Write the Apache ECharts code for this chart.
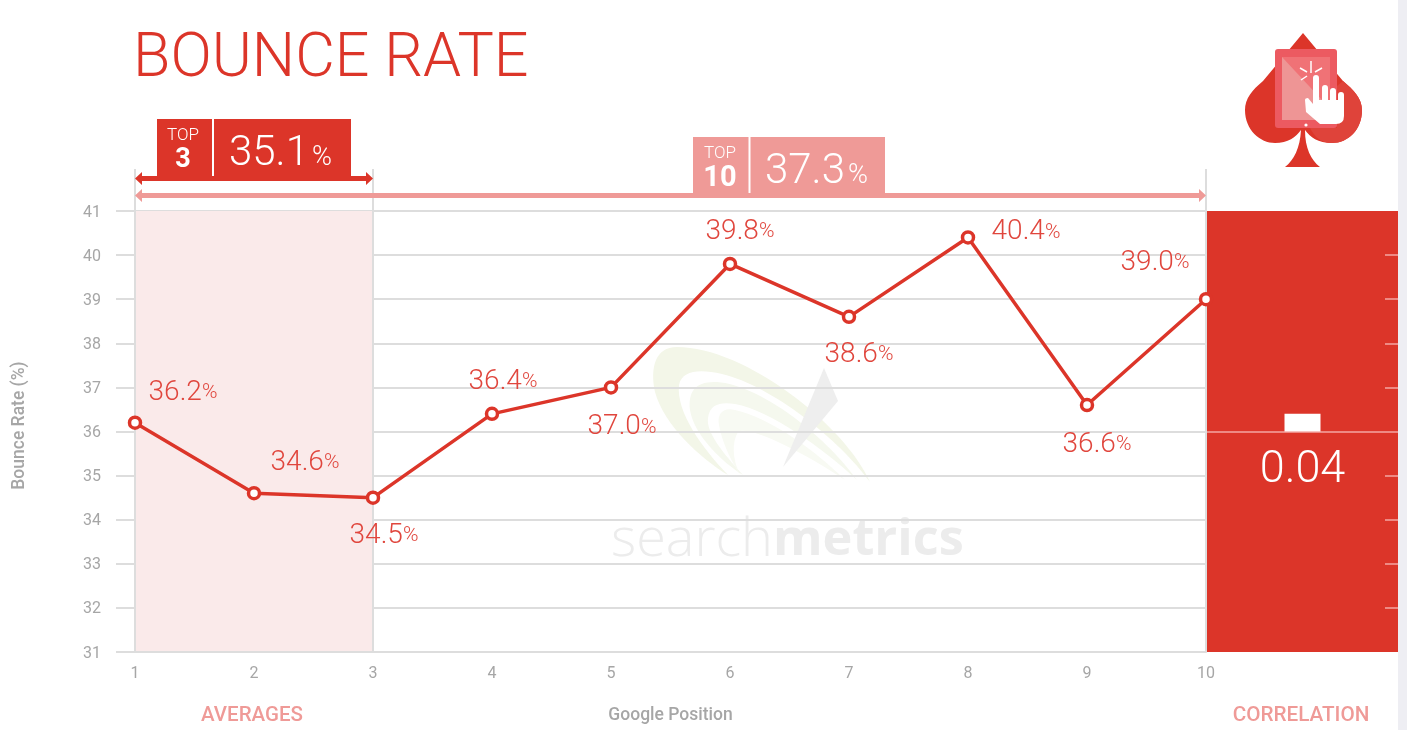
<!DOCTYPE html>
<html><head><meta charset="utf-8">
<style>html,body{margin:0;padding:0;background:#fff}#c{width:1407px;height:730px}</style>
<script src="https://cdn.jsdelivr.net/npm/echarts@6/dist/echarts.min.js"></script>
</head><body><div id="c"></div>
<script>
const positions = [1,2,3,4,5,6,7,8,9,10];
const bounceRate = [36.2,34.6,34.5,36.4,37.0,39.8,38.6,40.4,36.6,39.0];
const labelOffsets = [[48,-30],[51,-30],[11,38],[11,-32],[11,40],[10,-32],[10,38],[58,-5],[10,40],[-51,-36]];
const correlationLabels = ['Correlation'];
const correlationValues = [0.04];
const top3Average = '35.1';
const top10Average = '37.3';

const RED='#dc3529', PINK='#ef9a97', GREY='#dddddd', TXT='#a6a6a6', FONT='Roboto';
const chart = echarts.init(document.getElementById('c'),null,{renderer:'canvas'});

function txt(x,y,text,size,weight,color,align,extra){
  return Object.assign({type:'text',x,y,z:10,silent:true,style:{text,fontFamily:FONT,fontSize:size,fontWeight:weight,fill:color,align:align||'center',verticalAlign:'middle'}},extra||{});
}
function rect(x,y,w,h,fill,z,r){return {type:'rect',z:z===undefined?10:z,silent:true,shape:{x,y,width:w,height:h,r:r||0},style:{fill}};}
let shapeCount=0;
function pth(d,fill,z){
  const name='svgShape'+(++shapeCount);
  echarts.graphic.registerShape(name,echarts.graphic.extendPath(d,{}));
  return {type:name,z:z===undefined?10:z,silent:true,style:{fill}};
}
function poly(points,fill,z){return {type:'polygon',z:z===undefined?10:z,silent:true,shape:{points},style:{fill}};}
function seg(x1,y1,x2,y2,color,w){return {type:'line',z:12,silent:true,shape:{x1,y1,x2,y2},style:{stroke:color,lineWidth:w||1.5}};}
function arrow(x1,x2,y,color){
  const t=2.5,hw=7,hh=6.5;
  return poly([[x1,y],[x1+hw,y-hh],[x1+hw,y-t],[x2-hw,y-t],[x2-hw,y-hh],[x2,y],[x2-hw,y+hh],[x2-hw,y+t],[x1+hw,y+t],[x1+hw,y+hh]],color,9);
}

const staticGraphics = [
  rect(1398,0,9,730,'#eeeef3',20),
  // watermark
  pth('M870 482 C845 425 745 347 677 347 C655 347 650 368 655 392 C664 425 700 458 728 475 C702 448 676 412 679 385 C682 370 700 369 722 374 C772 386 840 440 870 482 Z','#f3f6e8',-1),
  pth('M857 480 C825 435 760 385 717 382 C695 381 688 392 690 410 C694 435 722 462 743 475 C722 452 706 432 708 418 C710 403 722 402 735 404 C770 410 825 450 857 480 Z','#f5f8ee',-1),
  pth('M845 480 C815 450 770 418 735 410 C722 407 717 415 719 425 C722 443 732 462 740 475 C732 458 732 442 738 432 C748 425 800 450 845 480 Z','#f8faf3',-1),
  poly([[824,368],[838,401],[783,467]],'#eeeeee',-1),
  {type:'text',x:611,y:541,z:-1,silent:true,style:{rich:{a:{fontFamily:'Open Sans',fontSize:54,fontWeight:300,fill:'#ececec'},b:{fontFamily:'Open Sans',fontSize:50.5,fontWeight:700,fill:'#ececec'}},text:'{a|search}{b|metrics}',verticalAlign:'middle'}},
  // title
  txt(133,61,'BOUNCE RATE',61,300,RED,'left'),
  // badges
  rect(157,119,194,58,RED),
  rect(212,119,2,57,'#ffffff',11),
  txt(183,136,'TOP',17,300,'#ffffff'),
  txt(183,160,'3',27,700,'#ffffff'),
  txt(229,154,top3Average,42,300,'#ffffff','left'),
  txt(312,158,'%',27,300,'#ffffff','left'),
  rect(693,137,192,57,PINK),
  rect(748.5,137,2,56,'#ffffff',11),
  txt(720,154,'TOP',17,300,'#ffffff'),
  txt(720,179,'10',29,700,'#ffffff'),
  txt(765,172,top10Average,42,300,'#ffffff','left'),
  txt(848,176,'%',27,300,'#ffffff','left'),
  // section captions
  txt(252,716,'AVERAGES',20.5,500,PINK),
  txt(1301,716,'CORRELATION',20.7,500,PINK),
  // spade icon
  pth('M1303 33 L1263 81 C1252 90 1245 99 1245 110 C1245 130 1260 143 1275 143 C1288 143 1296 137 1301 130 C1300 148 1294 160 1285 167 L1320 167 C1311 160 1305 148 1305 130 C1310 137 1318 143 1332 143 C1348 143 1362 130 1362 110 C1362 99 1354 90 1343 81 Z',RED,10),
  pth('M1310 128 L1337 128 L1337 86 L1343 81 C1354 90 1362 99 1362 110 C1362 130 1348 143 1332 143 C1322 143 1315 138 1310 128 Z','#df433a',10),
  rect(1275,49,62,79,'#ec5a61',11,3),
  rect(1282,57,48,63,'#f07276',11),
  poly([[1282,57],[1322,100],[1322,120],[1282,120]],'#ee9595',11),
  {type:'circle',z:12,silent:true,shape:{cx:1306,cy:125,r:1.6},style:{fill:'#fff'}},
  pth('M1313 78 A3 3 0 0 1 1319 78 L1319 100 L1322 100 L1322 88 A3 3 0 0 1 1328 88 L1328 100 L1330 100 L1330 91 A3 3 0 0 1 1336 91 L1336 100 L1338 100 L1338 95 A3 3 0 0 1 1344 95 L1344 116 Q1344 124 1336 124 L1320 124 L1306 112 L1305 100 Q1305 98 1308 98 L1313 104 Z','#ffffff',12),
  seg(1311,61,1311,73,'#ffffff'),
  seg(1300,68,1307,72,'#ffffff'),
  seg(1301,80,1307,76,'#ffffff'),
  seg(1322,68,1315,72,'#ffffff')
];

const option = {
  animation:false,
  backgroundColor:'#ffffff',
  grid:[
    {left:135,top:211,width:1071,height:441,outerBoundsMode:'none'},
    {left:1207,top:211,width:191,height:441,outerBoundsMode:'none',show:true,backgroundColor:RED,borderWidth:0}
  ],
  xAxis:[
    {type:'value',gridIndex:0,min:1,max:10,interval:1,
     name:'Google Position',nameLocation:'middle',nameGap:55,
     nameTextStyle:{fontFamily:FONT,fontSize:17.5,fontWeight:500,color:TXT},
     axisLine:{show:true,onZero:false,lineStyle:{color:GREY,width:2}},
     axisTick:{show:true,inside:true,length:483,customValues:[1,3,10],lineStyle:{color:GREY,width:2}},
     axisLabel:{margin:14,fontFamily:FONT,fontSize:16,color:TXT,customValues:positions,formatter:v=>String(v)},
     splitLine:{show:false}},
    {type:'category',gridIndex:1,data:correlationLabels,
     axisLine:{show:true,onZero:true,lineStyle:{color:'#ee8a84',width:2}},
     axisTick:{show:false},axisLabel:{show:false}}
  ],
  yAxis:[
    {type:'value',gridIndex:0,min:31,max:41,interval:1,
     name:'Bounce Rate (%)',nameLocation:'middle',nameGap:106,nameRotate:90,
     nameTextStyle:{fontFamily:FONT,fontSize:17.5,fontWeight:500,color:TXT,padding:[0,0,0,12]},
     axisLine:{show:false},
     axisTick:{show:true,length:19,lineStyle:{color:GREY,width:2}},
     axisLabel:{margin:34,fontFamily:FONT,fontSize:16,color:TXT,verticalAlign:'top',lineHeight:3},
     splitLine:{show:true,lineStyle:{color:GREY,width:2}}},
    {type:'value',gridIndex:1,position:'right',min:-0.5,max:0.5,interval:0.1,
     axisLine:{show:false},
     axisTick:{show:true,inside:true,length:13,customValues:[-0.4,-0.3,-0.2,-0.1,0.1,0.2,0.3,0.4],lineStyle:{color:'#ee8a84',width:2}},
     axisLabel:{show:false},splitLine:{show:false}}
  ],
  series:[
    {type:'line',name:'Bounce Rate',xAxisIndex:0,yAxisIndex:0,z:5,
     data:positions.map((p,i)=>({value:[p,bounceRate[i]],
       label:{offset:labelOffsets[i]}})),
     clip:false,symbol:'circle',symbolSize:11,showAllSymbol:true,
     lineStyle:{color:RED,width:3.5},
     itemStyle:{color:'#ffffff',borderColor:RED,borderWidth:3.5},
     label:{show:true,position:'inside',
       formatter:p=>'{n|'+p.value[1].toFixed(1)+'}{p|%}',
       rich:{n:{fontFamily:FONT,fontSize:28,fontWeight:300,color:'#e0463d'},p:{fontFamily:FONT,fontSize:21,fontWeight:300,color:'#e0463d'}}},
     markArea:{silent:true,itemStyle:{color:'#faeaea'},z:0,data:[[{xAxis:positions[0]},{xAxis:positions[2]}]]}
    },
    {type:'bar',name:'Correlation',xAxisIndex:1,yAxisIndex:1,data:correlationValues,barWidth:36,
     itemStyle:{color:'#ffffff'},
     label:{show:true,position:'bottom',distance:17,formatter:p=>p.value.toFixed(2),fontFamily:FONT,fontSize:45,fontWeight:300,color:'#ffffff'}}
  ],
  graphic:staticGraphics
};
chart.setOption(option);

// The span arrows follow the same x scale as the line.
const px = v => chart.convertToPixel({xAxisIndex:0},v);
chart.setOption({graphic:staticGraphics.concat([
  arrow(px(positions[0]),px(positions[2]),178.5,RED),
  arrow(px(positions[0]),px(positions[9]),195.5,PINK)
])});
</script></body></html>
